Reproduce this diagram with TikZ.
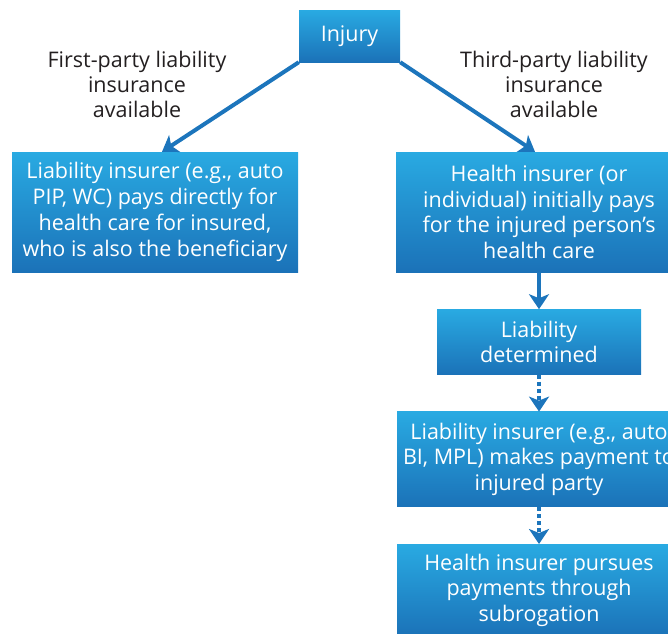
\documentclass[tikz,border=0pt]{standalone}
\usepackage{fontspec}
\setmainfont{Open Sans}
\usetikzlibrary{positioning,arrows.meta}
\definecolor{boxTop}{RGB}{41,170,226}
\definecolor{boxBottom}{RGB}{27,114,184}
\definecolor{flowBlue}{RGB}{28,117,188}
\definecolor{labelGray}{RGB}{35,31,32}
\tikzset{
	box/.style={
		top color=boxTop,
		bottom color=boxBottom,
		text=white,
		align=center,
		inner sep=0pt,
		font=\fontsize{21.5}{25.8}\selectfont,
	},
	sidelabel/.style={
		text=labelGray,
		align=center,
		font=\fontsize{21.5}{25}\selectfont,
	},
	flow/.style={
		-{Stealth[length=15pt,width=20pt,inset=4pt]},
		line width=4pt,
		draw=flowBlue,
	},
	dotflow/.style={
		flow,
		dash pattern=on 4pt off 3pt,
	}
}

\begin{document}
\begin{tikzpicture}[x=1pt,y=-1pt]
			\clip (0,0) rectangle (668,633);
			\useasboundingbox (0,0) rectangle (668,633);
			% --- Top ---
			\node[box, minimum width=101pt, minimum height=52pt] (injury) at (349.5,36) {Injury};
			\node[sidelabel] (firstlbl) at (137,84) {First-party liability\\insurance\\available};
			\node[sidelabel] (thirdlbl) at (554,84) {Third-party liability\\insurance\\available};
			
			% --- Left branch ---
			\node[box, minimum width=286pt, minimum height=120pt] (liabfirst) at (155,212)
			{Liability insurer (e.g., auto\\PIP, WC) pays directly for\\health care for insured,\\who is also the beneficiary};
			
			% --- Right column ---
			\node[box, minimum width=286pt, minimum height=120pt] (healthpays) at (539,212)
			{Health insurer (or\\individual) initially pays\\for the injured person’s\\health care};
			\node[box, minimum width=204pt, minimum height=65pt] (determined)
			[below=37pt of healthpays] {Liability\\determined};
			\node[box, minimum width=284pt, minimum height=95pt] (liabpays)
			[below=37pt of determined] {Liability insurer (e.g., auto\\BI, MPL) makes payment to\\injured party};
			\node[box, minimum width=284pt, minimum height=92pt] (subrogation)
			[below=37pt of liabpays] {Health insurer pursues\\payments through\\subrogation};
			
			% --- Flows ---
			\draw[flow] (injury.south west) -- ([xshift=7pt]liabfirst.north);
			\draw[flow] (injury.south east) -- ([xshift=-4pt]healthpays.north);
			\draw[flow] (healthpays) -- (determined);
			\draw[dotflow] (determined) -- (liabpays);
			\draw[dotflow] (liabpays) -- (subrogation);
		\end{tikzpicture}
\end{document}
